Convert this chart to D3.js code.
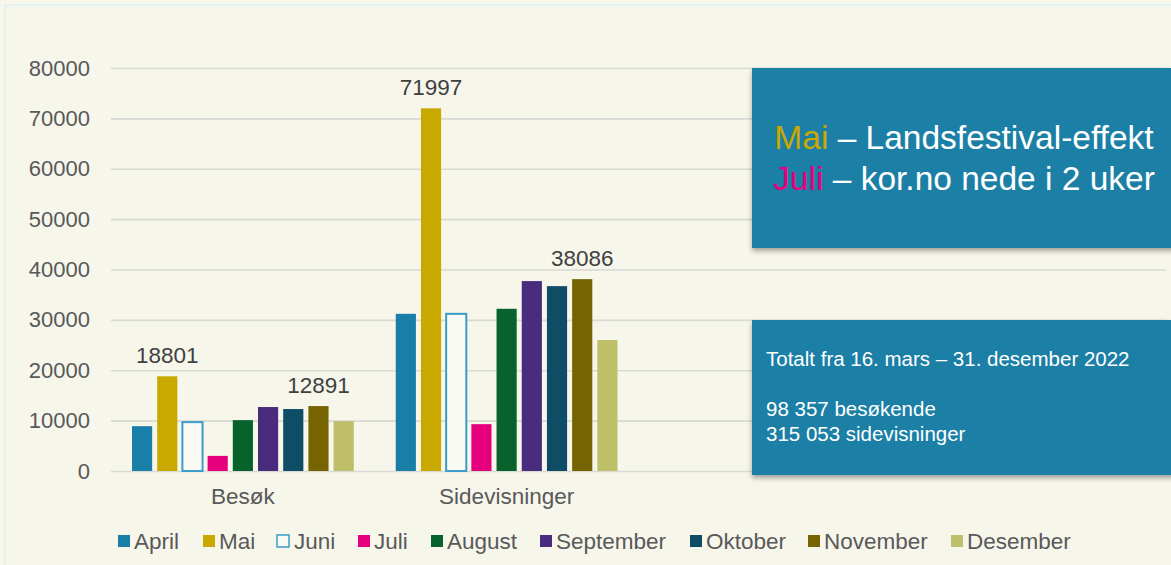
<!DOCTYPE html>
<html>
<head>
<meta charset="utf-8">
<script src="https://cdn.jsdelivr.net/npm/d3@7"></script>
<style>
  body { margin: 0; background: #F6F6EB; }
  svg { display: block; font-family: "Liberation Sans", Arial, sans-serif; }
</style>
</head>
<body>
<div id="chart"></div>
<script>
// data
var categories = ["Besøk", "Sidevisninger"];
var months = ["April", "Mai", "Juni", "Juli", "August", "September", "Oktober", "November", "Desember"];
var besok = [8900, 18801, 9700, 3000, 10100, 12700, 12300, 12891, 9900];
var sidevisninger = [31200, 71997, 31200, 9300, 32200, 37700, 36700, 38086, 26000];
var labelled = ["Mai", "November"];
var yTicks = [0, 10000, 20000, 30000, 40000, 50000, 60000, 70000, 80000];
var monthColors = ["#1A7FA8", "#C9A800", "#FAFAF4", "#E6007E", "#08622C", "#4A2C7E", "#0F4C66", "#766400", "#BFBF6A"];
var noteLines = ["Totalt fra 16. mars – 31. desember 2022", "", "98 357 besøkende", "315 053 sidevisninger"];

var series = [besok, sidevisninger];

var width = 1171, height = 565;
var margin = {top: 68, right: 5, bottom: 94, left: 111};

var svg = d3.select("#chart").append("svg")
    .attr("width", width)
    .attr("height", height);

// slide frame
svg.append("rect")
    .attr("x", 5).attr("y", 5)
    .attr("width", width + 10).attr("height", height - 3)
    .attr("fill", "#F6F6EB")
    .attr("stroke", "#DDEFF2")
    .attr("stroke-width", 1.5);

var defs = svg.append("defs");
var shadow = defs.append("filter").attr("id", "shadow")
    .attr("x", "-5%").attr("y", "-5%").attr("width", "115%").attr("height", "120%");
shadow.append("feDropShadow")
    .attr("dx", 0).attr("dy", 3).attr("stdDeviation", 2.5)
    .attr("flood-color", "#000").attr("flood-opacity", 0.35);

// 4 slots on the axis, only the first two are used
var x0 = d3.scaleBand()
    .domain(categories.concat(["_a", "_b"]))
    .range([margin.left, width - margin.right]);

var x1 = d3.scaleBand()
    .domain(months)
    .range([21, x0.bandwidth() - 21])
    .paddingInner(0.2);

var y = d3.scaleLinear()
    .domain([0, 80000])
    .range([height - margin.bottom, margin.top]);

var color = d3.scaleOrdinal().domain(months).range(monthColors);

// gridlines
var grid = svg.append("g")
    .attr("class", "grid")
    .attr("transform", "translate(" + margin.left + ",0)")
    .call(d3.axisLeft(y).tickValues(yTicks).tickSize(-(width - margin.right - margin.left)).tickFormat(""));
grid.select(".domain").remove();
grid.selectAll("line").attr("stroke", "#D9D9D6").attr("stroke-width", 1.6);

// y axis labels
var yAxis = svg.append("g")
    .attr("transform", "translate(90,0)")
    .call(d3.axisLeft(y).tickValues(yTicks).tickSize(0).tickPadding(0).tickFormat(d3.format("d")));
yAxis.select(".domain").remove();
yAxis.selectAll("text")
    .attr("fill", "#595959")
    .attr("font-size", "22px")
    .attr("font-family", "Liberation Sans, Arial, sans-serif");

// x axis labels
var xAxis = svg.append("g")
    .attr("transform", "translate(0," + (height - margin.bottom) + ")")
    .call(d3.axisBottom(x0).tickValues(categories).tickSize(0).tickPadding(17));
xAxis.select(".domain").remove();
xAxis.selectAll("text")
    .attr("fill", "#595959")
    .attr("font-size", "22.5px")
    .attr("font-family", "Liberation Sans, Arial, sans-serif");

// bars
var groups = svg.selectAll(".group")
    .data(categories)
    .enter().append("g")
    .attr("class", "group")
    .attr("transform", function(d) { return "translate(" + x0(d) + ",0)"; });

groups.selectAll("rect")
    .data(function(d, i) {
        return months.map(function(m, j) { return {month: m, value: series[i][j]}; });
    })
    .enter().append("rect")
    .attr("x", function(d) { return x1(d.month); })
    .attr("y", function(d) { return y(d.value); })
    .attr("width", x1.bandwidth())
    .attr("height", function(d) { return y(0) - y(d.value); })
    .attr("fill", function(d) { return color(d.month); })
    .attr("stroke", function(d) { return d.month === "Juni" ? "#3A9CC8" : "none"; })
    .attr("stroke-width", 2);

// value labels
groups.selectAll(".val")
    .data(function(d, i) {
        return months.map(function(m, j) { return {month: m, value: series[i][j]}; })
            .filter(function(d) { return labelled.indexOf(d.month) >= 0; });
    })
    .enter().append("text")
    .attr("class", "val")
    .attr("x", function(d) { return x1(d.month) + x1.bandwidth() / 2; })
    .attr("y", function(d) { return y(d.value) - 13; })
    .attr("text-anchor", "middle")
    .attr("font-size", "22.5px")
    .attr("fill", "#404040")
    .text(function(d) { return d.value; });

// legend
var legendX = [118, 203, 277, 358, 431, 540, 690, 808, 951];
var legend = svg.selectAll(".legend")
    .data(months)
    .enter().append("g")
    .attr("class", "legend")
    .attr("transform", function(d, i) { return "translate(" + legendX[i] + ",541)"; });

legend.append("rect")
    .attr("x", 0).attr("y", -6)
    .attr("width", 12).attr("height", 12)
    .attr("fill", function(d) { return color(d); })
    .attr("stroke", function(d) { return d === "Juni" ? "#3A9CC8" : "none"; })
    .attr("stroke-width", 1.5);

legend.append("text")
    .attr("x", function(d) { return d === "Juni" ? 17 : 16; })
    .attr("y", 8)
    .attr("font-size", "22.5px")
    .attr("fill", "#595959")
    .text(function(d) { return d; });

// callout boxes
svg.append("rect")
    .attr("x", 752).attr("y", 68)
    .attr("width", 430).attr("height", 180)
    .attr("fill", "#1B7FA6")
    .attr("filter", "url(#shadow)");

var head = svg.append("text")
    .attr("x", 964).attr("y", 149)
    .attr("text-anchor", "middle")
    .attr("font-size", "33.5px")
    .attr("fill", "#FFFFFF");
head.append("tspan").attr("fill", color("Mai")).text("Mai");
head.append("tspan").text(" – Landsfestival-effekt");

var head2 = svg.append("text")
    .attr("x", 964).attr("y", 190)
    .attr("text-anchor", "middle")
    .attr("font-size", "33.5px")
    .attr("fill", "#FFFFFF");
head2.append("tspan").attr("fill", color("Juli")).text("Juli");
head2.append("tspan").text(" – kor.no nede i 2 uker");

svg.append("rect")
    .attr("x", 752).attr("y", 320)
    .attr("width", 430).attr("height", 155)
    .attr("fill", "#1B7FA6")
    .attr("filter", "url(#shadow)");

svg.selectAll(".note")
    .data(noteLines)
    .enter().append("text")
    .attr("class", "note")
    .attr("x", 766)
    .attr("y", function(d, i) { return 366 + i * 25; })
    .attr("font-size", "20.5px")
    .attr("fill", "#FFFFFF")
    .text(function(d) { return d; });
</script>
</body>
</html>
